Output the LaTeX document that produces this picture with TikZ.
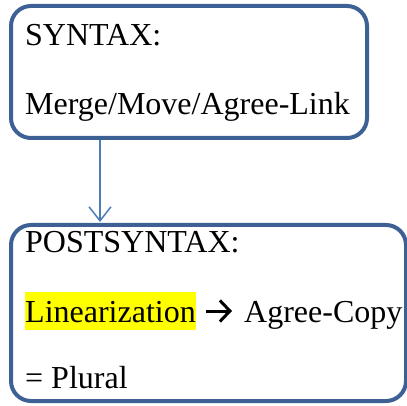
\documentclass[tikz,border=0pt]{standalone}
\usepackage{fontspec}
\setmainfont{Liberation Serif}
\usetikzlibrary{arrows.meta}
\definecolor{boxblue}{HTML}{3D6194}
\definecolor{linkblue}{HTML}{4A7EBB}
\definecolor{hilite}{HTML}{FFFF00}
\tikzset{
  stagebox/.style={draw=boxblue, line width=4pt, rounded corners=20pt},
  stagetext/.style={anchor=base west, inner sep=0pt, font=\fontsize{32}{32}\selectfont},
  flow/.style={draw=linkblue, line width=1.5pt, -{Straight Barb[length=14pt, width=22pt, line width=1.5pt]}},
  textarrow/.style={draw=black, line width=3pt, -{Straight Barb[length=10pt, width=21pt, line width=3pt]}}
}
\begin{document}
\begin{tikzpicture}[x=1pt, y=-1pt]
  \useasboundingbox (0,0) rectangle (407,406);
  \begin{scope}
    \clip (0,0) rectangle (407,406);
    % stage boxes
    \draw[stagebox] (11,6) rectangle (367,138);
    \draw[stagebox] (11,225) rectangle (406,401);
  \end{scope}
  \coordinate (synbot) at (100,140);
  \coordinate (posttop) at (100,222);
  % syntax stage
  \node[stagetext] (syn) at (25,46) {SYNTAX:};
  \node[stagetext] (ops) at (25,115) {Merge/Move/Agree-Link};
  % postsyntax stage
  \node[stagetext] (post) at (25,253) {POSTSYNTAX:};
  \node[stagetext, fill=hilite, text depth=8pt, text height=30pt] (lin) at (25,322) {Linearization};
  \node[stagetext] (copy) at (244,322) {Agree-Copy};
  \node[stagetext] (plural) at (25,388) {= Plural};
  % bold arrow between the two terms
  \coordinate (arrtail) at (206,311);
  \coordinate (arrhead) at (232,311);
  \draw[textarrow] (arrtail) -- (arrhead);
  % link between stages
  \draw[flow] (synbot) -- (posttop);
\end{tikzpicture}
\end{document}
